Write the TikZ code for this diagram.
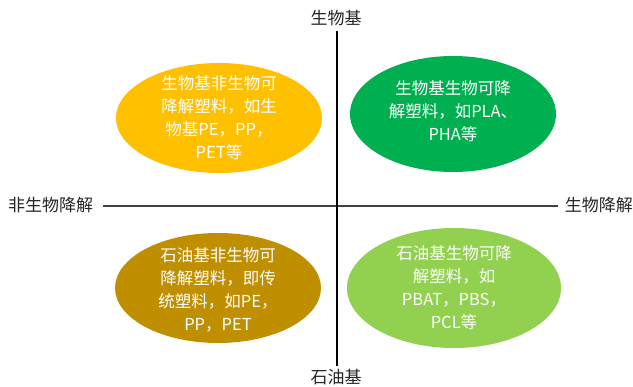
\documentclass[tikz,border=0pt]{standalone}
\usepackage{fontspec}
\setmainfont{Noto Sans CJK SC}
\usetikzlibrary{shapes.geometric}
\definecolor{cyel}{HTML}{FFC000}
\definecolor{cgrn}{HTML}{00B050}
\definecolor{cgold}{HTML}{BF8F00}
\definecolor{clgrn}{HTML}{92D050}
\definecolor{axlabel}{HTML}{262626}
\definecolor{hline}{HTML}{404040}
\tikzset{
  blob/.style={ellipse, draw=none, inner sep=0pt},
  blobtext/.style={text=white, align=center, inner sep=0pt, font=\fontsize{16.5}{23}\selectfont},
  axlab/.style={text=axlabel, inner sep=0pt, font=\fontsize{17}{20}\selectfont},
}
\begin{document}
\begin{tikzpicture}[x=1pt,y=-1pt]
\useasboundingbox[fill=white] (0,0) rectangle (633,387);
% axes
\node[axlab] (top) at (336,18) {生物基};
\node[axlab] (bot) at (336,377) {石油基};
\node[axlab, anchor=west] (left) at (8,205) {非生物降解};
\node[axlab, anchor=east] (right) at (633,205) {生物降解};
\coordinate (vt) at (337,31);
\coordinate (vb) at (337,366);
\coordinate (hl) at (103,206);
\coordinate (hr) at (558,206);
\draw[hline, line width=2.2pt] (hl) -- (hr);
\draw[black, line width=1.8pt] (vt) -- (vb);
% ellipses
\node[blob, fill=cyel, minimum width=206, minimum height=110] (tl) at (219,118) {};
\node[blob, fill=cgrn, minimum width=206, minimum height=116] (tr) at (453,114) {};
\node[blob, fill=cgold, minimum width=206, minimum height=110] (bl) at (218,288) {};
\node[blob, fill=clgrn, minimum width=214, minimum height=120] (br) at (454,288) {};
% texts
\node[blobtext] (tlt) at (tl) {生物基非生物可\\降解塑料，如生\\物基PE，PP，\\PET等};
\node[blobtext] (trt) at ([yshift=3]tr.center) {生物基生物可降\\解塑料，如PLA、\\PHA等};
\node[blobtext] (blt) at ([yshift=-2]bl.center) {石油基非生物可\\降解塑料，即传\\统塑料，如PE，\\PP，PET};
\node[blobtext] (brt) at (br) {石油基生物可降\\解塑料，如\\PBAT，PBS，\\PCL等};
\end{tikzpicture}
\end{document}
